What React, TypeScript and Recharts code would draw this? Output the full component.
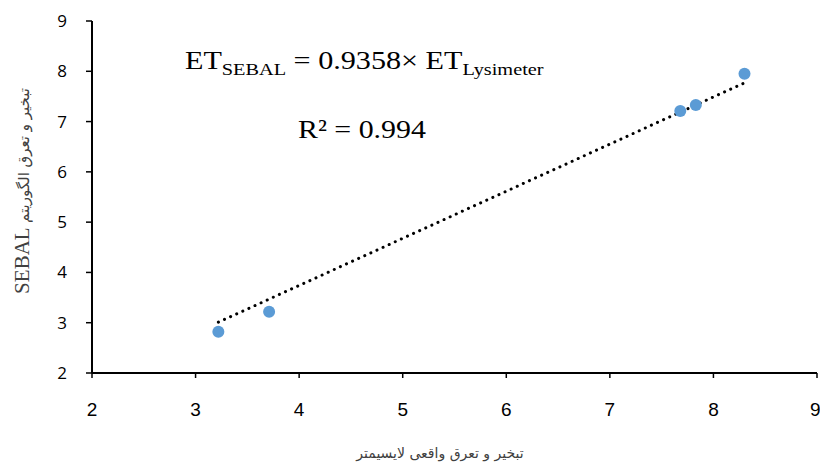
import React from "react";
import {
  ScatterChart,
  Scatter,
  XAxis,
  YAxis,
  Customized,
} from "recharts";

// ET lysimeter (x) vs ET SEBAL (y)
const lysimeter = [3.22, 3.71, 7.68, 7.83, 8.30];
const sebal = [2.82, 3.22, 7.21, 7.33, 7.95];

// linear trend (through origin), endpoints
const trendX = [3.22, 8.30];
const trendY = [3.01, 7.77];

const axisTicks = [2, 3, 4, 5, 6, 7, 8, 9];

const xTitle = "تبخیر و تعرق واقعی لایسیمتر";
const yTitleLatin = "SEBAL";
const yTitleArabic = "تبخیر و تعرق الگوریتم";

const POINT_COLOR = "#5b9bd5";

const points = lysimeter.map((x, i) => ({ x, y: sebal[i] }));
const trend = trendX.map((x, i) => ({ x, y: trendY[i] }));

function Dot(props: any) {
  const { cx, cy } = props;
  if (cx == null || cy == null) return <g />;
  return <circle cx={cx} cy={cy} r={6} fill={POINT_COLOR} />;
}

function Annotations() {
  const serif = "'Liberation Serif', 'Times New Roman', serif";
  return (
    <g>
      {/* regression equation */}
      <g transform="translate(185,69) scale(1.16,1)">
        <text x={0} y={0} fontFamily={serif} fontSize={26} fill="#000">
          ET
          <tspan fontSize={17.5} dy={6}>SEBAL</tspan>
          <tspan dy={-6}> = 0.9358× ET</tspan>
          <tspan fontSize={17.5} dy={6}>Lysimeter</tspan>
        </text>
      </g>
      <g transform="translate(298,138) scale(1.15,1)">
        <text x={0} y={0} fontFamily={serif} fontSize={26} fill="#000">
          R² = 0.994
        </text>
      </g>
      {/* axis titles */}
      <text
        x={440}
        y={458}
        textAnchor="middle"
        fontFamily="'DejaVu Sans', sans-serif"
        fontSize={14}
        fill="#404040"
      >
        {xTitle}
      </text>
      <text
        transform="translate(29,191) rotate(-90)"
        textAnchor="middle"
        fill="#404040"
      >
        <tspan fontFamily={serif} fontSize={21}>{yTitleLatin} </tspan>
        <tspan fontFamily="'DejaVu Sans', sans-serif" fontSize={15}>
          {yTitleArabic}
        </tspan>
      </text>
    </g>
  );
}

export default function App() {
  return (
    <div style={{ position: "absolute", left: 0, top: 0, background: "#fff" }}>
      <ScatterChart
        width={820}
        height={466}
        margin={{ top: 21, right: 3, left: 0, bottom: 0 }}
      >
        <XAxis
          type="number"
          dataKey="x"
          domain={[2, 9]}
          ticks={axisTicks}
          height={93}
          stroke="#000"
          strokeWidth={2}
          tickSize={5}
          tickMargin={25}
          tickLine={{ stroke: "#000", strokeWidth: 1.5 }}
          tick={{ fill: "#000", fontSize: 19, fontFamily: "'Liberation Sans', Arial, sans-serif" }}
          allowDataOverflow
        />
        <YAxis
          type="number"
          dataKey="y"
          domain={[2, 9]}
          ticks={axisTicks}
          width={92}
          stroke="#000"
          strokeWidth={2}
          tickSize={6}
          tickMargin={19}
          tickLine={{ stroke: "#000", strokeWidth: 1.5 }}
          tick={{ fill: "#000", fontSize: 17, fontFamily: "'Open Sans', sans-serif" }}
          allowDataOverflow
        />
        <Scatter
          data={trend}
          line={{
            stroke: "#000",
            strokeWidth: 3,
            strokeDasharray: "0.1 6.6",
            strokeLinecap: "round",
          }}
          shape={() => <g />}
          isAnimationActive={false}
        />
        <Scatter data={points} shape={<Dot />} isAnimationActive={false} />
        <Customized component={Annotations} />
      </ScatterChart>
    </div>
  );
}
